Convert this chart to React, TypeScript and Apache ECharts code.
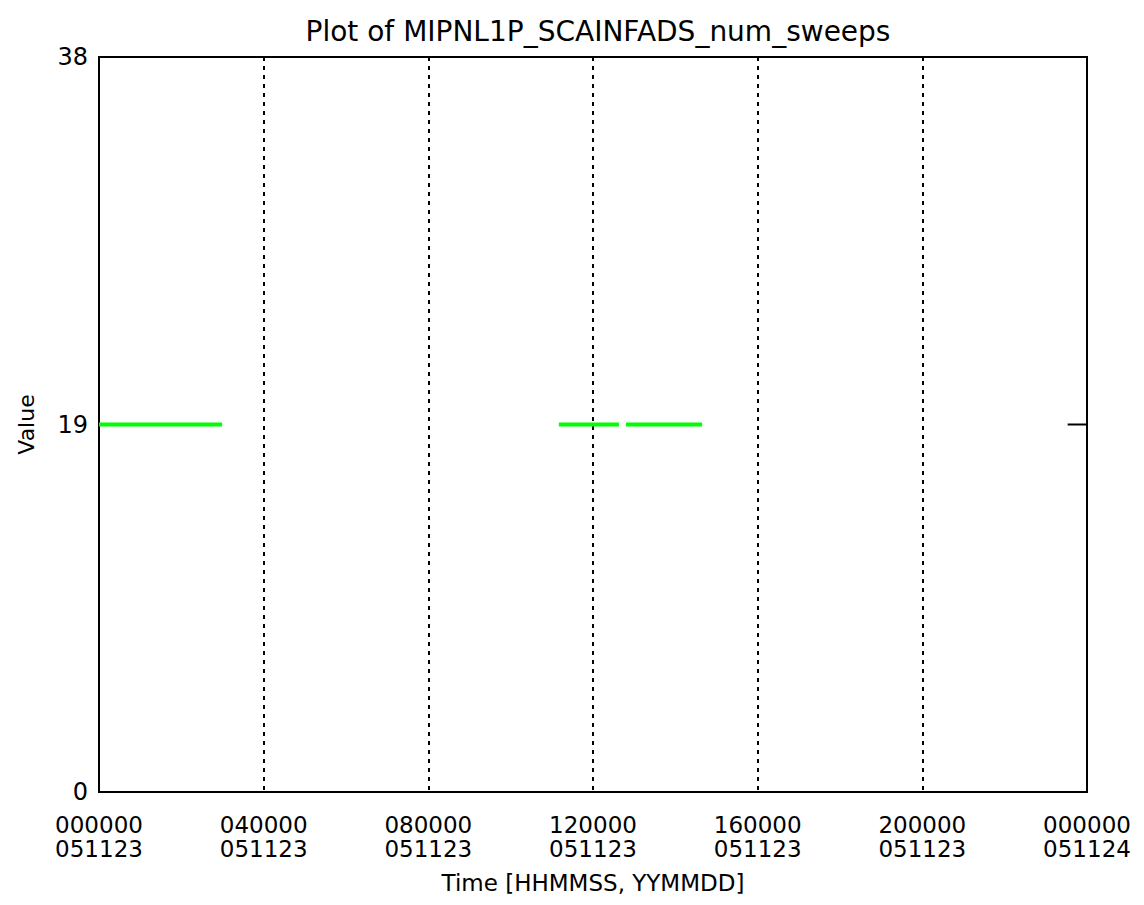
import React, { useEffect, useRef } from "react";
import * as echarts from "echarts";

// Time in hours since 000000 051123
const segmentStarts = [0, 11.17, 12.8];
const segmentEnds = [2.99, 12.63, 14.65];
const segmentValue = 19;
const rightMarkStart = 23.53;
const rightMarkEnd = 24;
const xTickHours = [0, 4, 8, 12, 16, 20, 24];
const xTimeLabels = ["000000", "040000", "080000", "120000", "160000", "200000", "000000"];
const xDateLabels = ["051123", "051123", "051123", "051123", "051123", "051123", "051124"];
const yTicks = [0, 19, 38];

const FONT = "DejaVu Sans";

export default function App() {
  const ref = useRef<HTMLDivElement>(null);
  useEffect(() => {
    if (!ref.current) return;
    const chart = echarts.init(ref.current, undefined, { renderer: "svg" });
    const segSeries = segmentStarts.map((s, i) => ({
      type: "line",
      data: [
        [s, segmentValue],
        [segmentEnds[i], segmentValue],
      ],
      showSymbol: false,
      lineStyle: { color: "#00ff00", width: 4 },
      silent: true,
    }));
    chart.setOption({
      animation: false,
      backgroundColor: "#ffffff",
      title: {
        text: "Plot of MIPNL1P_SCAINFADS_num_sweeps",
        left: 593,
        textAlign: "center",
        top: 12,
        textStyle: { fontFamily: FONT, fontSize: 28, fontWeight: "normal", color: "#000" },
      },
      grid: {
        left: 99,
        right: 57,
        top: 57,
        bottom: 113,
        show: true,
        borderColor: "#000",
        borderWidth: 2,
        containLabel: false,
      },
      xAxis: {
        type: "value",
        min: 0,
        max: 24,
        interval: 4,
        name: "Time [HHMMSS, YYMMDD]",
        nameLocation: "middle",
        nameGap: 79,
        nameTextStyle: { fontFamily: FONT, fontSize: 23, color: "#000" },
        axisLine: { show: false },
        axisTick: { show: false },
        axisLabel: {
          margin: 21,
          fontFamily: FONT,
          fontSize: 23,
          lineHeight: 24,
          color: "#000",
          showMinLabel: true,
          showMaxLabel: true,
          formatter: (v: number) => {
            const i = xTickHours.indexOf(v);
            return i >= 0 ? xTimeLabels[i] + "\n" + xDateLabels[i] : "";
          },
        },
        splitLine: {
          show: true,
          lineStyle: { color: "#000", width: 2, type: [4, 5] },
        },
      },
      yAxis: {
        type: "value",
        min: 0,
        max: 38,
        interval: 19,
        name: "Value",
        nameLocation: "middle",
        nameGap: 62,
        nameRotate: 90,
        nameTextStyle: { fontFamily: FONT, fontSize: 22, color: "#000" },
        axisLine: { show: false },
        axisTick: { show: false },
        splitLine: { show: false },
        axisLabel: {
          margin: 11,
          fontFamily: FONT,
          fontSize: 24,
          color: "#000",
          formatter: (v: number) => (yTicks.includes(v) ? String(v) : ""),
        },
      },
      series: [
        ...segSeries,
        {
          type: "line",
          data: [
            [rightMarkStart, segmentValue],
            [rightMarkEnd, segmentValue],
          ],
          showSymbol: false,
          lineStyle: { color: "#000", width: 2 },
          silent: true,
        },
      ],
    });
    return () => chart.dispose();
  }, []);
  return (
    <div
      ref={ref}
      style={{ position: "fixed", left: 0, top: 0, width: 1144, height: 905, background: "#fff" }}
    />
  );
}
